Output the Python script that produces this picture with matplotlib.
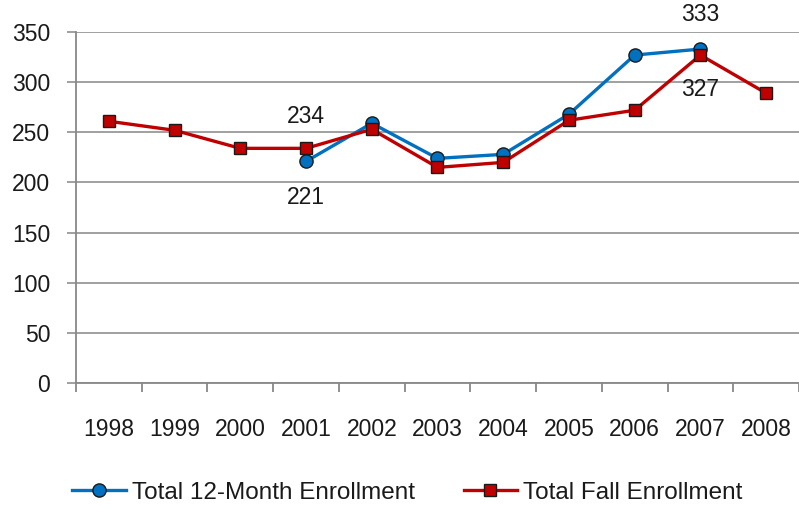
import numpy as np
import matplotlib.pyplot as plt

plt.rcParams['font.family'] = ['Liberation Sans', 'DejaVu Sans']

years = ['1998', '1999', '2000', '2001', '2002', '2003', '2004', '2005', '2006', '2007', '2008']
month12 = [np.nan, np.nan, np.nan, 221, 259, 224, 228, 268, 327, 333, np.nan]
fall = [261, 252, 234, 234, 253, 215, 220, 262, 272, 327, 289]

x = np.arange(len(years))
fs = 16.5

fig = plt.figure(figsize=(7.99, 5.08), dpi=100)
ax = fig.add_axes([0.0951, 0.246, 0.9049, 0.691])

ax.plot(x, month12, color='#0070C0', lw=2.4, marker='o', ms=9.5,
        mfc='#0070C0', mec='#1a1a1a', mew=1, label='Total 12-Month Enrollment', zorder=3)
ax.plot(x, fall, color='#C00000', lw=2.4, marker='s', ms=8,
        mfc='#C00000', mec='#1a1a1a', mew=1, label='Total Fall Enrollment', zorder=4)

# data labels
ax.annotate('234', (x[3], fall[3]), xytext=(0, 23), textcoords='offset points',
            ha='center', va='center', fontsize=fs, color='#1a1a1a')
ax.annotate('221', (x[3], month12[3]), xytext=(0, -26), textcoords='offset points',
            ha='center', va='center', fontsize=fs, color='#1a1a1a')
ax.annotate('333', (x[9], month12[9]), xytext=(0, 25), textcoords='offset points',
            ha='center', va='center', fontsize=fs, color='#1a1a1a', annotation_clip=False)
ax.annotate('327', (x[9], fall[9]), xytext=(0, -25), textcoords='offset points',
            ha='center', va='center', fontsize=fs, color='#1a1a1a')

ax.set_xlim(-0.5, len(years) - 0.5)
ax.set_ylim(0, 350)
ax.set_yticks(np.arange(0, 351, 50))
ax.set_xticks(x)
ax.set_xticklabels(years)
ax.set_xticks(np.arange(-0.5, len(years), 1), minor=True)
ax.tick_params(axis='x', which='major', length=0, pad=25, labelsize=fs, labelcolor='#1a1a1a')
ax.tick_params(axis='x', which='minor', length=6.5, width=1.3, color='#888888')
ax.tick_params(axis='y', length=6.5, width=1.3, color='#999999', labelsize=fs,
               labelcolor='#1a1a1a', pad=12)

ax.grid(axis='y', color='#999999', lw=1.3)
ax.set_axisbelow(True)
for s in ['top', 'right']:
    ax.spines[s].set_visible(False)
for s in ['left', 'bottom']:
    ax.spines[s].set_color('#888888')
    ax.spines[s].set_linewidth(1.3)

leg = fig.legend(loc='center', bbox_to_anchor=(0.51, 0.03), ncol=2, frameon=False,
                 fontsize=17.5, handlelength=2.2, columnspacing=2.0, handletextpad=0.25)
for t in leg.get_texts():
    t.set_color('#1a1a1a')

fig.savefig('out.png', dpi=100)
